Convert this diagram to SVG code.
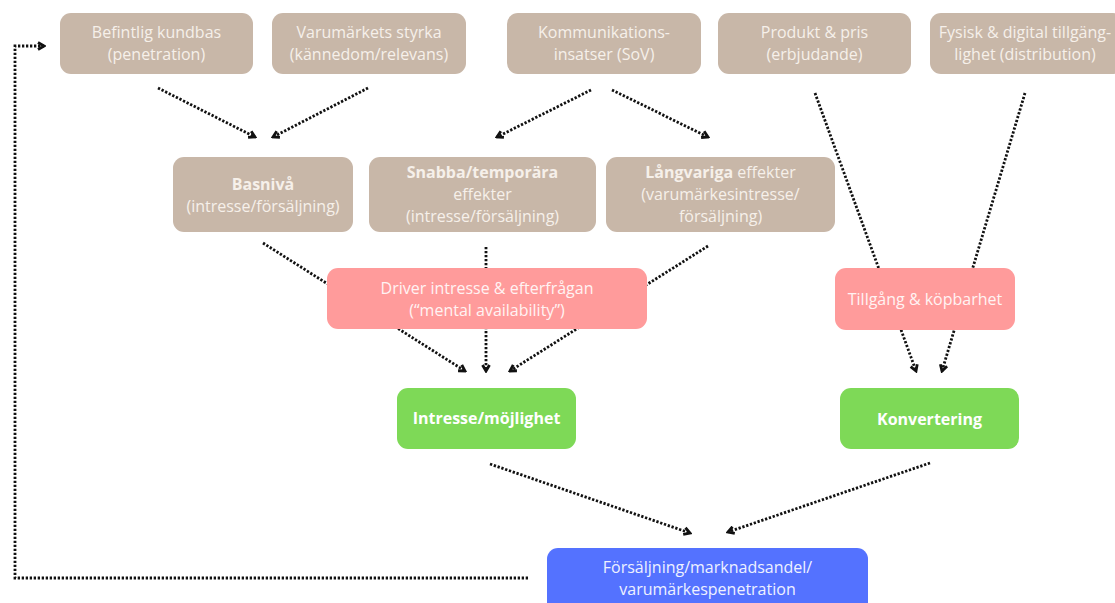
<svg xmlns="http://www.w3.org/2000/svg" width="1115" height="603" viewBox="0 0 1115 603">
<defs>
<style>
text{font-family:"Open Sans","Liberation Sans",sans-serif;font-size:16px;text-anchor:middle}
.beige{fill:#c8b7a8}
.pink{fill:#ff9b9b}
.green{fill:#7ed957}
.blue{fill:#5472ff}
.tb{fill:#f6f0ea}
.tp{fill:#fff3f3}
.tg{fill:#ffffff;font-weight:700}
.tbl{fill:#eef1ff}
.b{font-weight:700}
.c{fill:none;stroke:#111;stroke-width:2.8;stroke-dasharray:2.3 1.7}
</style>
<marker id="ah" viewBox="0 0 10 10" refX="8" refY="5" markerWidth="10" markerHeight="10" markerUnits="userSpaceOnUse" orient="auto">
<path d="M2,1.5 L8,5 L2,8.5" fill="none" stroke="#111" stroke-width="2.8"/>
</marker>
</defs>
<rect width="1115" height="603" fill="#ffffff"/>
<g id="connectors">
<path class="c" d="M158,88 L255,137" marker-end="url(#ah)"/>
<path class="c" d="M368,88 L273,137" marker-end="url(#ah)"/>
<path class="c" d="M591,90 L497,137" marker-end="url(#ah)"/>
<path class="c" d="M612,90 L708,137" marker-end="url(#ah)"/>
<path class="c" d="M815,93 L916,371" marker-end="url(#ah)"/>
<path class="c" d="M1025,93 L942,371" marker-end="url(#ah)"/>
<path class="c" d="M263,243 L465,371" marker-end="url(#ah)"/>
<path class="c" d="M486,247 L486,371" marker-end="url(#ah)"/>
<path class="c" d="M708,246 L510,371" marker-end="url(#ah)"/>
<path class="c" d="M490,464 L690,533" marker-end="url(#ah)"/>
<path class="c" d="M930,463 L728,532" marker-end="url(#ah)"/>
<path class="c" d="M528,578 H15 V46 H44" marker-end="url(#ah)"/>
</g>
<g id="befintlig">
<rect class="beige" x="60" y="13" width="193" height="61" rx="11"/>
<text class="tb" x="156.5" y="38">Befintlig kundbas</text>
<text class="tb" x="156.5" y="60">(penetration)</text>
</g>
<g id="varumarkets">
<rect class="beige" x="272" y="13" width="194" height="61" rx="11"/>
<text class="tb" x="369" y="38">Varumärkets styrka</text>
<text class="tb" x="369" y="60">(kännedom/relevans)</text>
</g>
<g id="kommunikation">
<rect class="beige" x="507" y="13" width="194" height="61" rx="11"/>
<text class="tb" x="604" y="38">Kommunikations-</text>
<text class="tb" x="604" y="60">insatser (SoV)</text>
</g>
<g id="produkt">
<rect class="beige" x="718" y="13" width="193" height="61" rx="11"/>
<text class="tb" x="814.5" y="38">Produkt &amp; pris</text>
<text class="tb" x="814.5" y="60">(erbjudande)</text>
</g>
<g id="fysisk">
<rect class="beige" x="930" y="13" width="194" height="61" rx="11"/>
<text class="tb" x="1025" y="38">Fysisk &amp; digital tillgäng-</text>
<text class="tb" x="1025" y="60">lighet (distribution)</text>
</g>
<g id="basniva">
<rect class="beige" x="173" y="157" width="180" height="75" rx="11"/>
<text class="tb b" x="263" y="190">Basnivå</text>
<text class="tb" x="263" y="212">(intresse/försäljning)</text>
</g>
<g id="snabba">
<rect class="beige" x="369" y="157" width="227" height="75" rx="11"/>
<text class="tb b" x="482.5" y="178">Snabba/temporära</text>
<text class="tb" x="482.5" y="200">effekter</text>
<text class="tb" x="482.5" y="222">(intresse/försäljning)</text>
</g>
<g id="langvariga">
<rect class="beige" x="606" y="157" width="229" height="75" rx="11"/>
<text class="tb" x="720.5" y="178"><tspan class="b">Långvariga</tspan> effekter</text>
<text class="tb" x="720.5" y="200">(varumärkesintresse/</text>
<text class="tb" x="720.5" y="222">försäljning)</text>
</g>
<g id="driver">
<rect class="pink" x="327" y="268" width="320" height="61" rx="11"/>
<text class="tp" x="487" y="294">Driver intresse &amp; efterfrågan</text>
<text class="tp" x="487" y="316">(“mental availability”)</text>
</g>
<g id="tillgang">
<rect class="pink" x="835" y="268" width="180" height="62" rx="11"/>
<text class="tp" x="925" y="305">Tillgång &amp; köpbarhet</text>
</g>
<g id="intresse">
<rect class="green" x="397" y="388" width="179" height="61" rx="11"/>
<text class="tg" x="486.5" y="424">Intresse/möjlighet</text>
</g>
<g id="konvertering">
<rect class="green" x="840" y="388" width="179" height="61" rx="11"/>
<text class="tg" x="929.5" y="425">Konvertering</text>
</g>
<g id="forsaljning">
<rect class="blue" x="547" y="548" width="321" height="66" rx="11"/>
<text class="tbl" x="707.5" y="573">Försäljning/marknadsandel/</text>
<text class="tbl" x="707.5" y="595">varumärkespenetration</text>
</g>
</svg>
